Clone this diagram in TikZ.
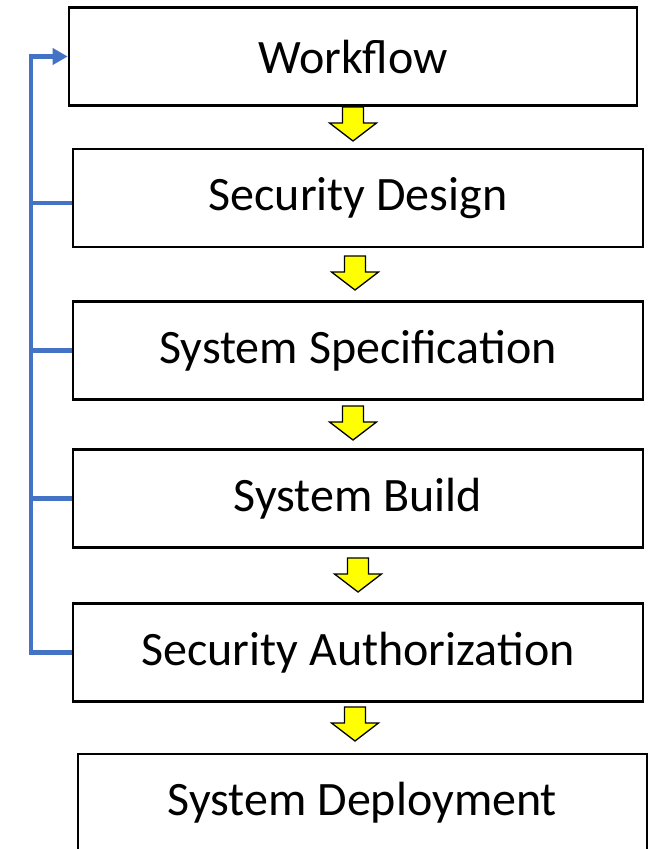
\documentclass[tikz,border=0pt]{standalone}
\usepackage{fontspec}
\setmainfont{Carlito}
\usetikzlibrary{arrows.meta}
\definecolor{loopblue}{HTML}{4472C4}
\definecolor{arrowyellow}{HTML}{FFFF00}
\tikzset{
  stagebox/.style={draw=black, line width=2.6pt, fill=white, inner sep=0pt,
    minimum width=#1, minimum height=98pt,
    font=\fontsize{48}{57}\selectfont},
  stagebox/.default=570pt,
  blueline/.style={draw=loopblue, line width=4.6pt, line join=miter},
  yarrow/.pic={\draw[fill=arrowyellow, draw=black, line width=1.3pt, line join=miter]
    (-10.5,0) -- (10.5,0) -- (10.5,16) -- (23.5,16) -- (0,34) -- (-23.5,16) -- (-10.5,16) -- cycle;}
}
\begin{document}
\begin{tikzpicture}[x=1pt, y=-1pt]
\useasboundingbox (0,0) rectangle (659,849);
\node[stagebox=568pt] (wf) at (353,56.5) {Workflow};
\node[stagebox] (sd) at (358,198) {Security Design};
\node[stagebox] (ss) at (358,350.5) {System Specification};
\node[stagebox] (sb) at (358,498.5) {System Build};
\node[stagebox] (sa) at (358,652.5) {Security Authorization};
\node[stagebox=569pt] (dep) at (362.5,803) {System Deployment};

\pic at (353,107) {yarrow};
\pic at (355,256) {yarrow};
\pic at (353,406) {yarrow};
\pic at (358,558) {yarrow};
\pic at (355,707) {yarrow};

\coordinate (loop) at (31,0);
\draw[blueline, -{Triangle[length=15pt,width=16pt]}]
  (sa.west) -| (loop |- wf.west) -- (wf.west);
\draw[blueline] ([yshift=-5pt]sd.west) -- ([yshift=-5pt]sd.west -| loop);
\draw[blueline] (ss.west) -- (ss.west -| loop);
\draw[blueline] (sb.west) -- (sb.west -| loop);
\end{tikzpicture}
\end{document}
